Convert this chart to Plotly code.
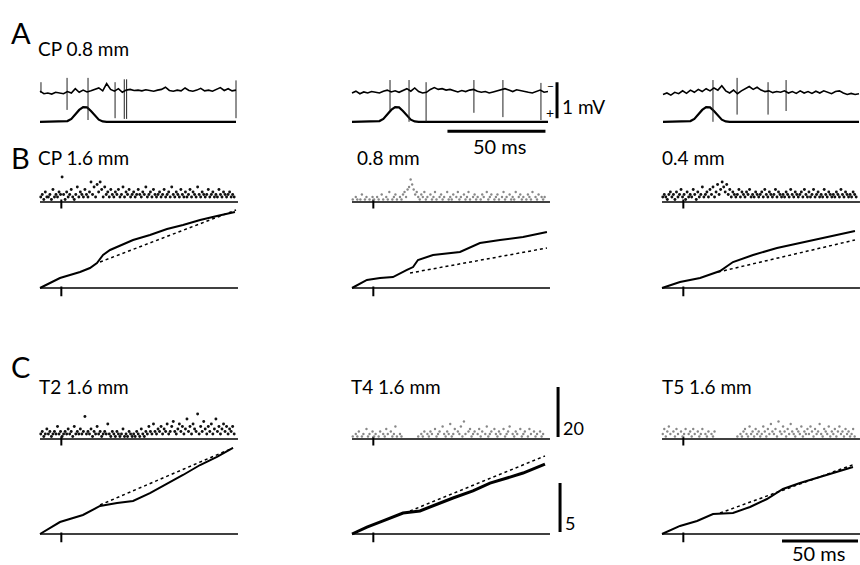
import numpy as np
import plotly.graph_objects as go

# ---------------- DATA ----------------
# Panel A: intracellular voltage traces (mV, relative to baseline), 2 ms steps
A_t = list(range(0, 101, 2))
A1_v = [0.05, -0.02, 0.0, -0.03, 0.02, 0.0, -0.02, 0.04, 0.0, 0.12, 0.02, 0.08, 0.03, 0.06, 0.1, 0.14, 0.06,
        0.26, 0.1, 0.05, 0.12, 0.02, 0.08, 0.1, 0.07, 0.08, 0.06, 0.09, 0.07, 0.05, 0.08, 0.1, 0.16, 0.07,
        0.05, 0.08, 0.06, 0.14, 0.07, 0.05, 0.08, 0.13, 0.06, 0.08, 0.05, 0.1, 0.15, 0.07, 0.12, 0.06, 0.08]
A2_v = [0.0, 0.05, -0.02, 0.03, 0.0, 0.04, 0.02, 0.0, 0.05, 0.08, 0.03, 0.06, 0.02, 0.08, 0.12, 0.05, 0.14,
        0.04, 0.0, 0.02, 0.1, 0.15, 0.1, 0.12, 0.08, 0.1, 0.06, 0.03, 0.07, 0.04, 0.08, 0.1, 0.05, 0.02,
        0.04, 0.0, 0.03, 0.06, 0.1, 0.12, 0.08, 0.04, 0.09, 0.06, 0.04, 0.02, 0.0, 0.03, 0.08, 0.02, 0.04]
A3_v = [-0.04, 0.0, -0.06, 0.02, -0.02, 0.06, -0.01, 0.08, 0.02, 0.1, 0.04, 0.12, 0.06, 0.14, 0.08, 0.2, 0.06,
        0.0, 0.08, -0.02, 0.06, 0.12, 0.18, 0.1, 0.16, 0.08, 0.04, 0.06, 0.01, 0.04, 0.02, 0.06, 0.0,
        0.04, -0.01, 0.06, 0.0, 0.04, -0.01, 0.05, 0.0, 0.06, 0.01, -0.02, 0.04, 0.06, 0.0, -0.04, -0.01,
        -0.04, -0.02]
A_v = [A1_v, A2_v, A3_v]

# spikes (time ms, top mV, bottom mV)
A_spk_t = [[0.5, 13.8, 24.5, 38.3, 43.0, 44.2, 100.0],
           [19.4, 29.1, 37.8, 62.2, 77.0, 96.4],
           [25.5, 37.8, 53.6, 62.8]]
A_spk_top = [[0.3, 0.42, 0.42, 0.3, 0.38, 0.38, 0.35],
             [0.36, 0.36, 0.3, 0.36, 0.36, 0.28],
             [0.36, 0.42, 0.3, 0.36]]
A_spk_bot = [[0.0, -0.47, -0.75, -0.7, -0.72, -0.72, -0.7],
             [-0.47, -0.8, -0.8, -0.55, -0.67, -0.75],
             [-0.8, -0.6, -0.6, -0.5]]

# stimulus waveform (mV-scaled display)
stim_t = [0, 12, 14, 16, 18, 20, 22, 24, 26, 28, 30, 32, 34, 100]
stim_v = [-0.8, -0.8, -0.78, -0.72, -0.6, -0.47, -0.39, -0.4, -0.5, -0.63, -0.74, -0.79, -0.8, -0.8]

# Rasters (counts per 1 ms bin)
B1_counts = [2,3,1,4,2,2,3,1,5,2,3,2,4,3,10,3, 1,4,2,3,5,2,1,3,6,2,4,3,2,5,3,2,
             4,8,3,6,2,7,4,8,5,2,6,3,4,2,5,3, 2,4,3,5,2,3,6,2,4,3,5,2,3,4,2,3,
             5,3,2,4,3,6,2,3,4,2,5,3,2,3,4,2, 3,5,2,3,4,2,6,3,2,4,3,2,5,3,2,4,
             2,3,5,2,4,3,2,6,3,2,4,3,2,3,5,2, 3,4,2,3,2,5,3,2,4,3,2,3,4,2,3,2]
B2_counts = [1,0,2,1,0,1,3,0,1,2,0,1,0,2,1,0, 2,1,0,3,1,0,2,1,4,0,1,2,3,1,0,2,
             1,3,4,2,5,6,9,7,5,3,4,2,1,3,2,4, 1,2,0,3,1,2,4,1,0,2,3,1,2,0,4,1,
             2,1,3,0,2,4,1,2,0,3,1,2,4,1,0,2, 3,1,2,0,1,3,2,0,4,1,2,3,0,1,2,3,
             1,0,2,4,1,2,0,3,1,2,1,4,0,2,3,1, 2,0,1,3,2,1,4,0,2,1,3,0,2,1,2,0]
B3_counts = [2,3,2,1,3,4,2,3,1,4,2,3,5,2,3,1, 4,2,3,2,5,3,1,4,2,3,6,2,3,4,2,5,
             3,6,2,4,7,3,5,8,6,4,7,3,5,2,4,3, 2,3,5,2,4,3,2,4,3,5,2,3,2,4,3,2,
             3,4,2,5,3,2,4,3,2,3,5,2,4,3,2,3, 2,4,3,2,5,3,2,4,3,2,3,4,2,5,3,2,
             4,2,3,5,2,3,4,2,3,2,5,3,2,4,3,2, 3,2,4,3,2,5,3,2,4,3,2,3,2,4,3,2]
C1_counts = [2,3,1,2,4,2,3,1,2,3,2,5,2,3,1,2, 3,2,4,2,3,1,5,2,3,2,4,2,3,9,2,3,
             2,4,1,3,2,5,2,3,1,2,3,2,6,2,1,3, 2,1,3,2,1,2,4,1,2,1,3,2,1,2,1,3,
             2,1,4,2,1,3,2,5,3,2,6,3,2,4,3,5, 2,4,3,6,2,3,5,7,3,2,4,6,3,5,2,4,
             8,3,5,2,6,4,3,10,2,5,3,7,4,2,5,3, 6,2,4,8,3,5,2,4,6,3,5,2,4,3,5,2]
C2_counts = [1,0,2,1,3,0,1,2,0,4,1,2,0,3,1,2, 0,1,3,0,2,1,4,2,0,3,1,2,5,1,0,2,
             1,0,0,0,0,0,0,0,0,0,0,1,0,2,1,3, 0,2,1,3,2,0,4,1,2,3,0,5,2,1,3,2,
             6,1,2,4,0,3,2,5,1,7,2,0,3,4,1,2, 3,0,2,4,1,3,0,2,5,1,2,3,0,4,2,1,
             3,2,0,4,1,2,3,5,0,2,1,3,2,0,4,1, 2,3,0,1,4,2,0,3,1,2,0,3,1,2,0,0]
C3_counts = [2,4,1,3,5,2,0,3,1,4,2,0,3,1,2,4, 0,2,3,1,4,2,0,3,1,2,4,0,2,1,3,0,
             2,1,3,0,0,0,0,0,0,0,0,0,0,0,0,0, 0,1,0,2,1,3,4,2,1,5,2,3,1,4,2,3,
             1,2,5,3,1,4,2,6,3,2,4,1,7,3,2,5, 3,1,4,2,6,3,2,1,4,3,2,5,1,3,2,4,
             2,5,3,1,4,2,3,6,2,1,4,3,2,5,1,3, 2,4,1,3,5,2,3,1,4,2,3,1,2,4,1,0]
B_counts = [B1_counts, B2_counts, B3_counts]
C_counts = [C1_counts, C2_counts, C3_counts]

# Cumulative sums (time ms, value in scale units)
B_cum_t = [[0, 13.1, 26.3, 32.8, 37.4, 41.4, 46.0, 52.5, 61.1, 72.2, 83.4, 93.9, 105.1, 116.2, 128.0],
           [0, 9.8, 18.4, 26.9, 36.1, 40.1, 43.3, 53.2, 70.9, 84.0, 97.2, 112.3, 128.0],
           [0, 11.8, 25.0, 38.1, 46.6, 59.8, 75.5, 90.6, 105.7, 126.7]]
B_cum_v = [[0, 1.02, 1.63, 2.04, 2.55, 3.37, 3.88, 4.29, 4.90, 5.41, 6.02, 6.43, 6.94, 7.35, 7.76],
           [0, 0.82, 1.02, 1.12, 1.84, 2.14, 2.86, 3.37, 3.67, 4.59, 4.90, 5.20, 5.71],
           [0, 0.61, 1.02, 1.73, 2.65, 3.37, 4.08, 4.59, 5.10, 5.82]]
B_dot_t = [[39.4, 128.7], [38.1, 128.0], [36.8, 126.7]]
B_dot_v = [[2.65, 7.96], [1.53, 4.08], [1.63, 4.90]]

C_cum_t = [[0, 13.1, 28.2, 39.4, 50.6, 61.1, 72.2, 83.4, 93.9, 105.1, 116.2, 126.7],
           [0, 9.8, 20.4, 33.5, 44.6, 55.8, 66.3, 79.4, 90.6, 101.8, 112.3, 126.7],
           [0, 11.8, 23.0, 33.5, 46.6, 57.8, 68.9, 79.4, 90.6, 101.8, 112.3, 125.4]]
C_cum_v = [[0, 1.22, 1.94, 2.86, 3.16, 3.37, 4.18, 5.10, 6.02, 7.04, 7.86, 8.78],
           [0, 0.71, 1.33, 2.14, 2.35, 3.06, 3.67, 4.39, 5.20, 5.71, 6.22, 7.14],
           [0, 0.82, 1.33, 2.04, 2.14, 2.76, 3.57, 4.59, 5.20, 5.71, 6.22, 6.84]]
C_dot_t = [[39.4, 126.7], [38.1, 126.7], [38.1, 126.7]]
C_dot_v = [[2.96, 8.78], [2.35, 7.96], [2.14, 7.14]]

stim_time = 14.0     # stimulus marker (ms)
sweep_end = 130.0    # ms

A_labels = ["CP 0.8 mm"]
B_labels = ["CP 1.6 mm", "0.8 mm", "0.4 mm"]
C_labels = ["T2 1.6 mm", "T4 1.6 mm", "T5 1.6 mm"]

# ---------------- LAYOUT GEOMETRY ----------------
W, H = 860, 565
FONT = "Lato, 'Open Sans', sans-serif"
A_left = [40, 352, 663]
A_k = 1.96                      # px per ms
A_rng = [[-6, 112], [-6, 112], [-6, 100.5]]
BC_left = [40, 352, 662]
BC_k = 1.523
BC_rng = [[-8, 150], [-8, 150], [-8, 130]]


def xdom(left, k, rng):
    return [max(0, (left + rng[0] * k) / W), min(1, (left + rng[1] * k) / W)]


def ydom(top_px, bot_px):
    return [1 - bot_px / H, 1 - top_px / H]


def yrange(top_px, bot_px, zero_px, k):
    return [-(bot_px - zero_px) / k, (zero_px - top_px) / k]


layout_axes = {}
for i in range(3):
    name = "xaxis" if i == 0 else f"xaxis{i+1}"
    layout_axes[name] = dict(domain=xdom(A_left[i], A_k, A_rng[i]), range=A_rng[i], visible=False,
                             anchor="free", position=0, fixedrange=True)
for i in range(3):
    layout_axes[f"xaxis{i+4}"] = dict(domain=xdom(BC_left[i], BC_k, BC_rng[i]), range=BC_rng[i],
                                      visible=False, anchor="free", position=0, fixedrange=True)

ygeo = {  # top_px, bottom_px, zero_px, px per unit
    "yaxis": (72, 136, 93, 36.0),
    "yaxis2": (165, 212, 202, 2.5),
    "yaxis3": (205, 297, 288, 9.8),
    "yaxis4": (380, 447, 439, 2.5),
    "yaxis5": (440, 545, 534, 9.8),
}
for name, (tp, bp, zp, k) in ygeo.items():
    layout_axes[name] = dict(domain=ydom(tp, bp), range=yrange(tp, bp, zp, k), visible=False,
                             anchor="free", position=0, fixedrange=True)

fig = go.Figure()


def line(x, y, xa, ya, width=1.5, color="black", dash="solid"):
    fig.add_trace(go.Scatter(x=x, y=y, xaxis=xa, yaxis=ya, mode="lines",
                             line=dict(color=color, width=width, dash=dash),
                             hoverinfo="skip", showlegend=False))


def segs(xs0, xs1, ys0, ys1):
    X, Y = [], []
    for a, b, c, d in zip(xs0, xs1, ys0, ys1):
        X += [a, b, None]
        Y += [c, d, None]
    return X, Y


# Panel A
for i in range(3):
    xa = "x" if i == 0 else f"x{i+1}"
    line(stim_t, stim_v, xa, "y", width=2.2)
    X, Y = segs(A_spk_t[i], A_spk_t[i], A_spk_top[i], A_spk_bot[i])
    line(X, Y, xa, "y", width=1, color="#222")
    line(A_t, A_v[i], xa, "y", width=1.6)

# A scale bars (column 2)
line([104.6, 104.6], [0.3, -0.7], "x2", "y", width=3)
line([48.7, 98.7], [-1.06, -1.06], "x2", "y", width=3)

# Panels B and C
for row, (counts, cum_t, cum_v, dot_t, dot_v, yr, yc) in enumerate([
        (B_counts, B_cum_t, B_cum_v, B_dot_t, B_dot_v, "y2", "y3"),
        (C_counts, C_cum_t, C_cum_v, C_dot_t, C_dot_v, "y4", "y5")]):
    for i in range(3):
        xa = f"x{i+4}"
        cnt = np.array(counts[i])
        tb = np.arange(len(cnt)) + 0.5
        m = cnt > 0
        dense = (row == 0 and i != 1) or (row == 1 and i == 0)
        line([0, sweep_end], [0, 0], xa, yr, width=1.3)
        line([stim_time, stim_time], [1.0, -2.6], xa, yr, width=2)
        fig.add_trace(go.Scatter(x=tb[m], y=cnt[m], xaxis=xa, yaxis=yr, mode="markers",
                                 marker=dict(size=2.9 if dense else 2.4,
                                             color="#111" if dense else "#888", line=dict(width=0)),
                                 hoverinfo="skip", showlegend=False))
        line([0, sweep_end], [0, 0], xa, yc, width=1.3)
        line([stim_time, stim_time], [0.15, -0.85], xa, yc, width=2)
        line(dot_t[i], dot_v[i], xa, yc, width=1.5, dash="dot")
        line(cum_t[i], cum_v[i], xa, yc, width=3 if (row == 1 and i == 1) else 2)

# C scale bars
line([135.3, 135.3], [0.8, 20.8], "x5", "y4", width=3)
line([136.6, 136.6], [0.2, 5.2], "x5", "y5", width=3)
line([78.8, 128.7], [-0.71, -0.71], "x6", "y5", width=3)


# ---------------- TEXT ----------------
def P(xp, yp):
    return xp / W, 1 - yp / H


ann = []


def text(s, xp, yp, size=16, xanchor="left"):
    x, y = P(xp, yp)
    ann.append(dict(text=s, x=x, y=y, xref="paper", yref="paper", xanchor=xanchor, yanchor="middle",
                    showarrow=False, font=dict(family=FONT, size=size, color="black")))


text("A", 9, 33, size=29)
text("B", 9, 157, size=29)
text("C", 9, 366, size=29)
text(A_labels[0], 36, 48, size=19)
for i, lx in enumerate([36, 355, 660]):
    text(B_labels[i], lx, 157, size=19)
for i, lx in enumerate([37, 349, 660]):
    text(C_labels[i], lx, 386, size=19)
text("50 ms", 499, 146, size=20, xanchor="center")
text("1 mV", 560, 107, size=19)
text("\u2212", 550, 85, size=12, xanchor="center")
text("+", 550, 113, size=14, xanchor="center")
text("20", 561, 428, size=18)
text("5", 563, 523, size=18)
text("50 ms", 818, 553, size=20, xanchor="center")

fig.update_layout(width=W, height=H, margin=dict(l=0, r=0, t=0, b=0),
                  paper_bgcolor="white", plot_bgcolor="rgba(0,0,0,0)",
                  showlegend=False, annotations=ann, **layout_axes)

fig.write_html("out.html", config={"displayModeBar": False, "staticPlot": True},
               post_script="document.body.style.margin='0';document.body.style.padding='0';"
                           "document.body.style.overflow='hidden';")
